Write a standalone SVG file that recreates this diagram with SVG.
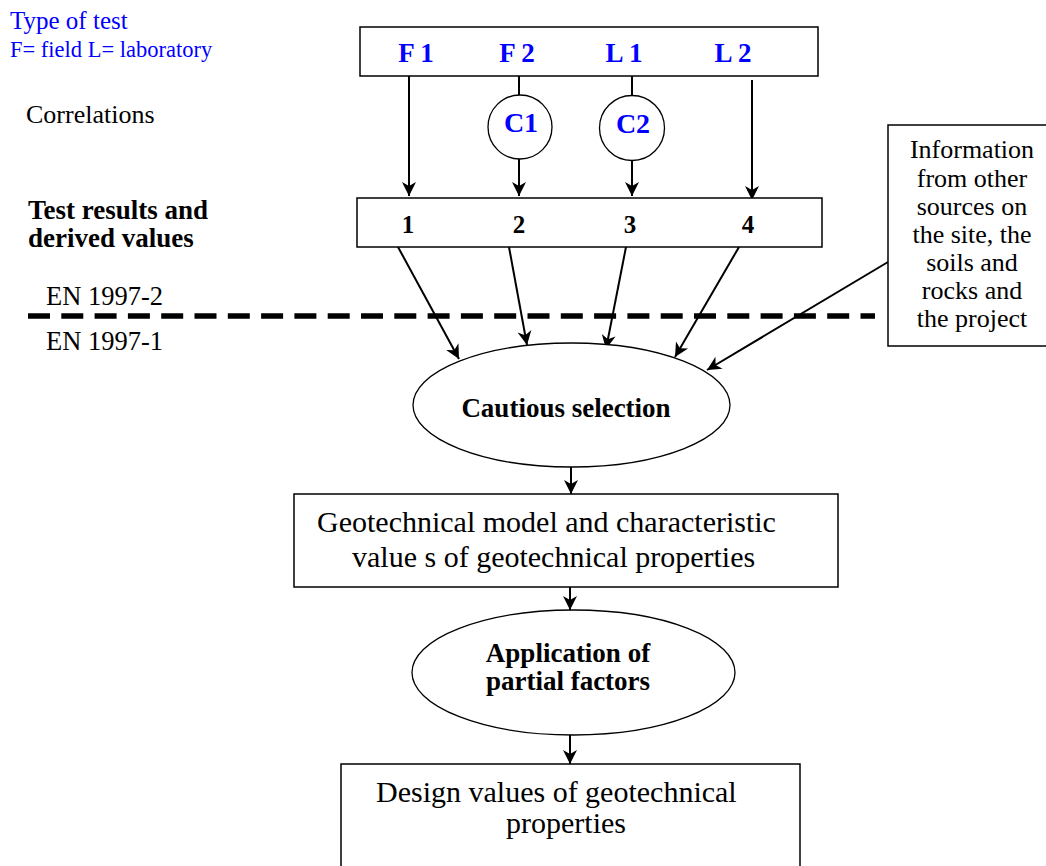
<svg xmlns="http://www.w3.org/2000/svg" width="1046" height="866" viewBox="0 0 1046 866">
<defs>
<style>
text{font-family:"Liberation Serif","Times New Roman",serif;fill:#000}
.blue{fill:#0000ff}
.b{font-weight:bold}
.box{fill:#fff;stroke:#000;stroke-width:1.5}
.ell{fill:#fff;stroke:#000;stroke-width:1.3}
.ln{stroke:#000;stroke-width:2;fill:none}
.arr{stroke:#000;stroke-width:2;fill:none;marker-end:url(#ah)}
.mid{text-anchor:middle}
</style>
<marker id="ah" markerUnits="userSpaceOnUse" markerWidth="18" markerHeight="18" viewBox="-16 -9 18 18" refX="0" refY="0" orient="auto">
<path d="M0,0 L-14,-7 L-10,0 L-14,7 Z" fill="#000"/>
</marker>
</defs>
<g id="legend">
<text class="blue" x="10" y="29" font-size="25">Type of test</text>
<text class="blue" x="10" y="57" font-size="22.5">F= field L= laboratory</text>
<text x="26" y="123" font-size="26">Correlations</text>
<text class="b" x="28" y="219" font-size="27">Test results and</text>
<text class="b" x="28" y="247" font-size="27">derived values</text>
<text x="46" y="305" font-size="26.5">EN 1997-2</text>
<text x="46" y="350" font-size="26.5">EN 1997-1</text>
<line x1="28" y1="316" x2="875" y2="316" stroke="#000" stroke-width="5.5" stroke-dasharray="22 11.3"/>
</g>
<g id="connectors">
<line class="arr" x1="409" y1="76" x2="409" y2="196"/>
<line class="ln" x1="519" y1="76" x2="519" y2="96"/>
<line class="arr" x1="519" y1="159" x2="519" y2="196"/>
<line class="ln" x1="632" y1="76" x2="632" y2="96"/>
<line class="arr" x1="632" y1="160" x2="632" y2="196"/>
<line class="arr" x1="752" y1="80" x2="752" y2="200"/>
<line class="arr" x1="398" y1="247" x2="459" y2="359"/>
<line class="arr" x1="509" y1="247" x2="527" y2="345"/>
<line class="arr" x1="626" y1="247" x2="606" y2="349"/>
<line class="arr" x1="739" y1="247" x2="675" y2="357"/>
<line class="arr" x1="888" y1="262" x2="707" y2="370"/>
<line class="arr" x1="571" y1="467" x2="571" y2="494"/>
<line class="arr" x1="570" y1="587" x2="570" y2="610"/>
<line class="arr" x1="570" y1="735" x2="570" y2="764"/>
</g>
<g id="tests">
<rect class="box" x="360" y="27" width="458" height="49"/>
<text class="blue b mid" x="416" y="62" font-size="27">F 1</text>
<text class="blue b mid" x="517" y="62" font-size="27">F 2</text>
<text class="blue b mid" x="624" y="62" font-size="27">L 1</text>
<text class="blue b mid" x="733" y="62" font-size="27">L 2</text>
</g>
<g id="c1">
<circle class="ell" cx="520" cy="127" r="32"/>
<text class="blue b mid" x="521" y="132" font-size="28">C1</text>
</g>
<g id="c2">
<circle class="ell" cx="632" cy="128" r="32.5"/>
<text class="blue b mid" x="633" y="133" font-size="28">C2</text>
</g>
<g id="results">
<rect class="box" x="357" y="198" width="465" height="49"/>
<text class="b mid" x="408" y="233" font-size="25">1</text>
<text class="b mid" x="519" y="233" font-size="25">2</text>
<text class="b mid" x="630" y="233" font-size="25">3</text>
<text class="b mid" x="748" y="233" font-size="25">4</text>
</g>
<g id="info">
<rect class="box" x="888" y="125" width="170" height="221"/>
<text class="mid" x="972" y="158" font-size="26">Information</text>
<text class="mid" x="972" y="187" font-size="26">from other</text>
<text class="mid" x="972" y="215" font-size="26">sources on</text>
<text class="mid" x="972" y="243" font-size="26">the site, the</text>
<text class="mid" x="972" y="271" font-size="26">soils and</text>
<text class="mid" x="972" y="299" font-size="26">rocks and</text>
<text class="mid" x="972" y="327" font-size="26">the project</text>
</g>
<g id="cautious">
<ellipse class="ell" cx="571.5" cy="405" rx="158.5" ry="62"/>
<text class="b mid" x="566" y="417" font-size="27">Cautious selection</text>
</g>
<g id="model">
<rect class="box" x="294" y="494" width="544" height="93"/>
<text x="317" y="532" font-size="30">Geotechnical model and characteristic</text>
<text x="352" y="567" font-size="30">value s of geotechnical properties</text>
</g>
<g id="partial">
<ellipse class="ell" cx="573.5" cy="672.5" rx="161.5" ry="62.5"/>
<text class="b mid" x="568" y="662" font-size="27">Application of</text>
<text class="b mid" x="568" y="690" font-size="27">partial factors</text>
</g>
<g id="design">
<rect class="box" x="341" y="764" width="459" height="120"/>
<text x="376" y="802" font-size="30">Design values of geotechnical</text>
<text class="mid" x="566" y="833" font-size="30">properties</text>
</g>
</svg>
